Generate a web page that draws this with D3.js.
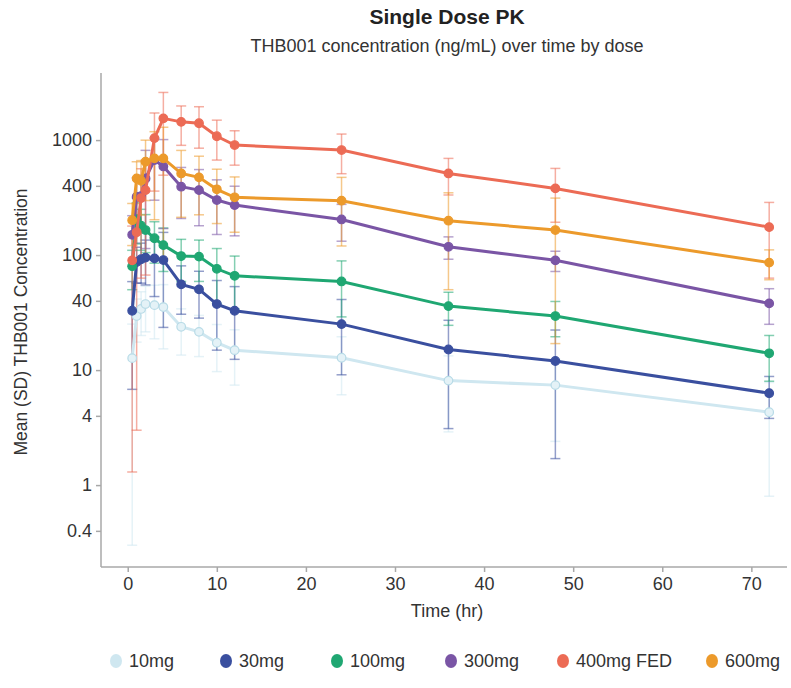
<!DOCTYPE html>
<html lang="en">
<head>
    <meta charset="UTF-8">
    <title>Single Dose PK</title>
    <script src="https://d3js.org/d3.v7.min.js"></script>
    <style>
        body { margin: 0; background: #fff; font-family: "Liberation Sans", Arial, sans-serif; }
        .axis path, .axis line { stroke: #a8a8a8; stroke-width: 1.5px; }
        .axis text { fill: #333; font-size: 18px; font-family: "Liberation Sans", Arial, sans-serif; }
    </style>
</head>
<body>
<script>
    // Sampling times (hr)
    const times = [0.5, 1, 1.5, 2, 3, 4, 6, 8, 10, 12, 24, 36, 48, 72];

    // Mean concentrations (ng/mL) per dose group
    const mean10  = [12.7, 29.5, 34, 37.5, 36.7, 35.3, 23.8, 21.5, 17.3, 14.9, 12.8, 8.1, 7.4, 4.3];
    const mean30  = [32.8, 87, 92, 95, 93.6, 90.5, 55.6, 50.3, 37.5, 32.8, 25.1, 15.1, 12.0, 6.3];
    const mean100 = [80, 205, 180, 165, 140, 122, 98, 97, 76, 66, 59, 36, 29.5, 14];
    const mean300 = [150, 321, 326, 464, 670, 590, 393, 367, 301, 272, 204, 118, 90, 38];
    const mean400 = [90, 158, 313, 367, 1040, 1545, 1440, 1400, 1080, 905, 819, 513, 380, 175];
    const mean600 = [201, 464, 443, 648, 693, 693, 513, 474, 373, 318, 297, 199, 165, 86];

    // Standard deviations
    const sd10  = [12.4, 12, 14, 16, 18, 20, 10.3, 8.4, 7.6, 7.5, 6.7, 5.2, 5.0, 3.5];
    const sd30  = [26, 30, 35, 40, 50, 67, 25, 22, 22.6, 20.4, 16, 12, 10.3, 2.5];
    const sd100 = [30, 80, 70, 60, 55, 50, 39, 38, 38, 32, 30, 11.5, 10, 6];
    const sd300 = [70, 150, 170, 350, 370, 420, 185, 187, 150, 125, 72, 26, 18, 13];
    const sd400 = [88.7, 155, 250, 300, 680, 1050, 540, 550, 410, 300, 309, 180, 187, 112];
    const sd600 = [80, 184, 220, 350, 490, 600, 300, 250, 185, 160, 177, 149, 148, 25];

    const doses  = ["10mg", "30mg", "100mg", "300mg", "400mg FED", "600mg"];
    const colors = ["#cfe7f0", "#3a4f9f", "#1fa772", "#7a55a5", "#ec6b55", "#ec9a2b"];
    const means  = [mean10, mean30, mean100, mean300, mean400, mean600];
    const sds    = [sd10, sd30, sd100, sd300, sd400, sd600];

    const yTicks = [0.4, 1, 4, 10, 40, 100, 400, 1000];
    const xTicks = [0, 10, 20, 30, 40, 50, 60, 70];

    const W = 791, H = 688;

    const series = doses.map((name, i) => ({
        name: name,
        color: colors[i],
        values: times.map((t, j) => ({ t: t, mean: means[i][j], sd: sds[i][j] }))
    }));

    const svg = d3.select("body").append("svg")
        .attr("width", W)
        .attr("height", H);

    const x = d3.scaleLinear().domain([-3, 74]).range([101, 787]);
    const y = d3.scaleLog().domain([0.194, 3830]).range([567, 73]);

    // Titles
    svg.append("text")
        .attr("x", 447).attr("y", 24)
        .attr("text-anchor", "middle")
        .style("font-size", "21px").style("font-weight", "bold").style("fill", "#222")
        .text("Single Dose PK");

    svg.append("text")
        .attr("x", 447).attr("y", 52)
        .attr("text-anchor", "middle")
        .style("font-size", "18px").style("fill", "#333")
        .text("THB001 concentration (ng/mL) over time by dose");

    // Axes
    svg.append("g")
        .attr("class", "axis")
        .attr("transform", "translate(101,0)")
        .call(d3.axisLeft(y).tickValues(yTicks).tickFormat(d => d).tickSize(5).tickPadding(4))
        .call(g => g.select(".domain").attr("d", "M0,73V567"));

    svg.append("g")
        .attr("class", "axis")
        .attr("transform", "translate(0,567)")
        .call(d3.axisBottom(x).tickValues(xTicks).tickSize(5).tickPadding(5))
        .call(g => g.select(".domain").attr("d", "M101,0H787"));

    svg.append("text")
        .attr("transform", "translate(27,322) rotate(-90)")
        .attr("text-anchor", "middle")
        .style("font-size", "17.5px").style("fill", "#333")
        .text("Mean (SD) THB001 Concentration");

    svg.append("text")
        .attr("x", 447).attr("y", 617)
        .attr("text-anchor", "middle")
        .style("font-size", "18px").style("fill", "#333")
        .text("Time (hr)");

    // Error bars (mean +/- SD, clipped at the axis floor)
    const yMin = y.domain()[0];
    const bars = svg.append("g");
    series.forEach(s => {
        const g = bars.append("g")
            .attr("stroke", s.color)
            .attr("stroke-opacity", 0.55)
            .attr("stroke-width", 1.5);
        s.values.forEach(d => {
            const lo = Math.max(d.mean - d.sd, yMin);
            const hi = d.mean + d.sd;
            const cx = x(d.t);
            g.append("line").attr("x1", cx).attr("x2", cx).attr("y1", y(lo)).attr("y2", y(hi));
            g.append("line").attr("x1", cx - 5).attr("x2", cx + 5).attr("y1", y(hi)).attr("y2", y(hi));
            if (d.mean - d.sd > yMin) {
                g.append("line").attr("x1", cx - 5).attr("x2", cx + 5).attr("y1", y(lo)).attr("y2", y(lo));
            }
        });
    });

    // Lines and points
    const line = d3.line().x(d => x(d.t)).y(d => y(d.mean));
    series.forEach((s, i) => {
        svg.append("path")
            .datum(s.values)
            .attr("fill", "none")
            .attr("stroke", s.color)
            .attr("stroke-width", 3)
            .attr("d", line);
        svg.append("g").selectAll("circle")
            .data(s.values)
            .join("circle")
            .attr("cx", d => x(d.t))
            .attr("cy", d => y(d.mean))
            .attr("r", 4.3)
            .attr("fill", i === 0 ? "#e4f2f7" : s.color)
            .attr("stroke", i === 0 ? "#b8dbe7" : s.color)
            .attr("stroke-width", 1.2);
    });

    // Legend
    const legendX = [116, 226, 337, 451, 563, 712];
    const legend = svg.append("g").attr("transform", "translate(0,661)");
    series.forEach((s, i) => {
        legend.append("ellipse")
            .attr("cx", legendX[i]).attr("cy", 0)
            .attr("rx", 6).attr("ry", 7)
            .attr("fill", s.color);
        legend.append("text")
            .attr("x", legendX[i] + 13).attr("y", 0)
            .attr("dy", "0.35em")
            .style("font-size", "18px").style("fill", "#333")
            .text(s.name);
    });
</script>
</body>
</html>
